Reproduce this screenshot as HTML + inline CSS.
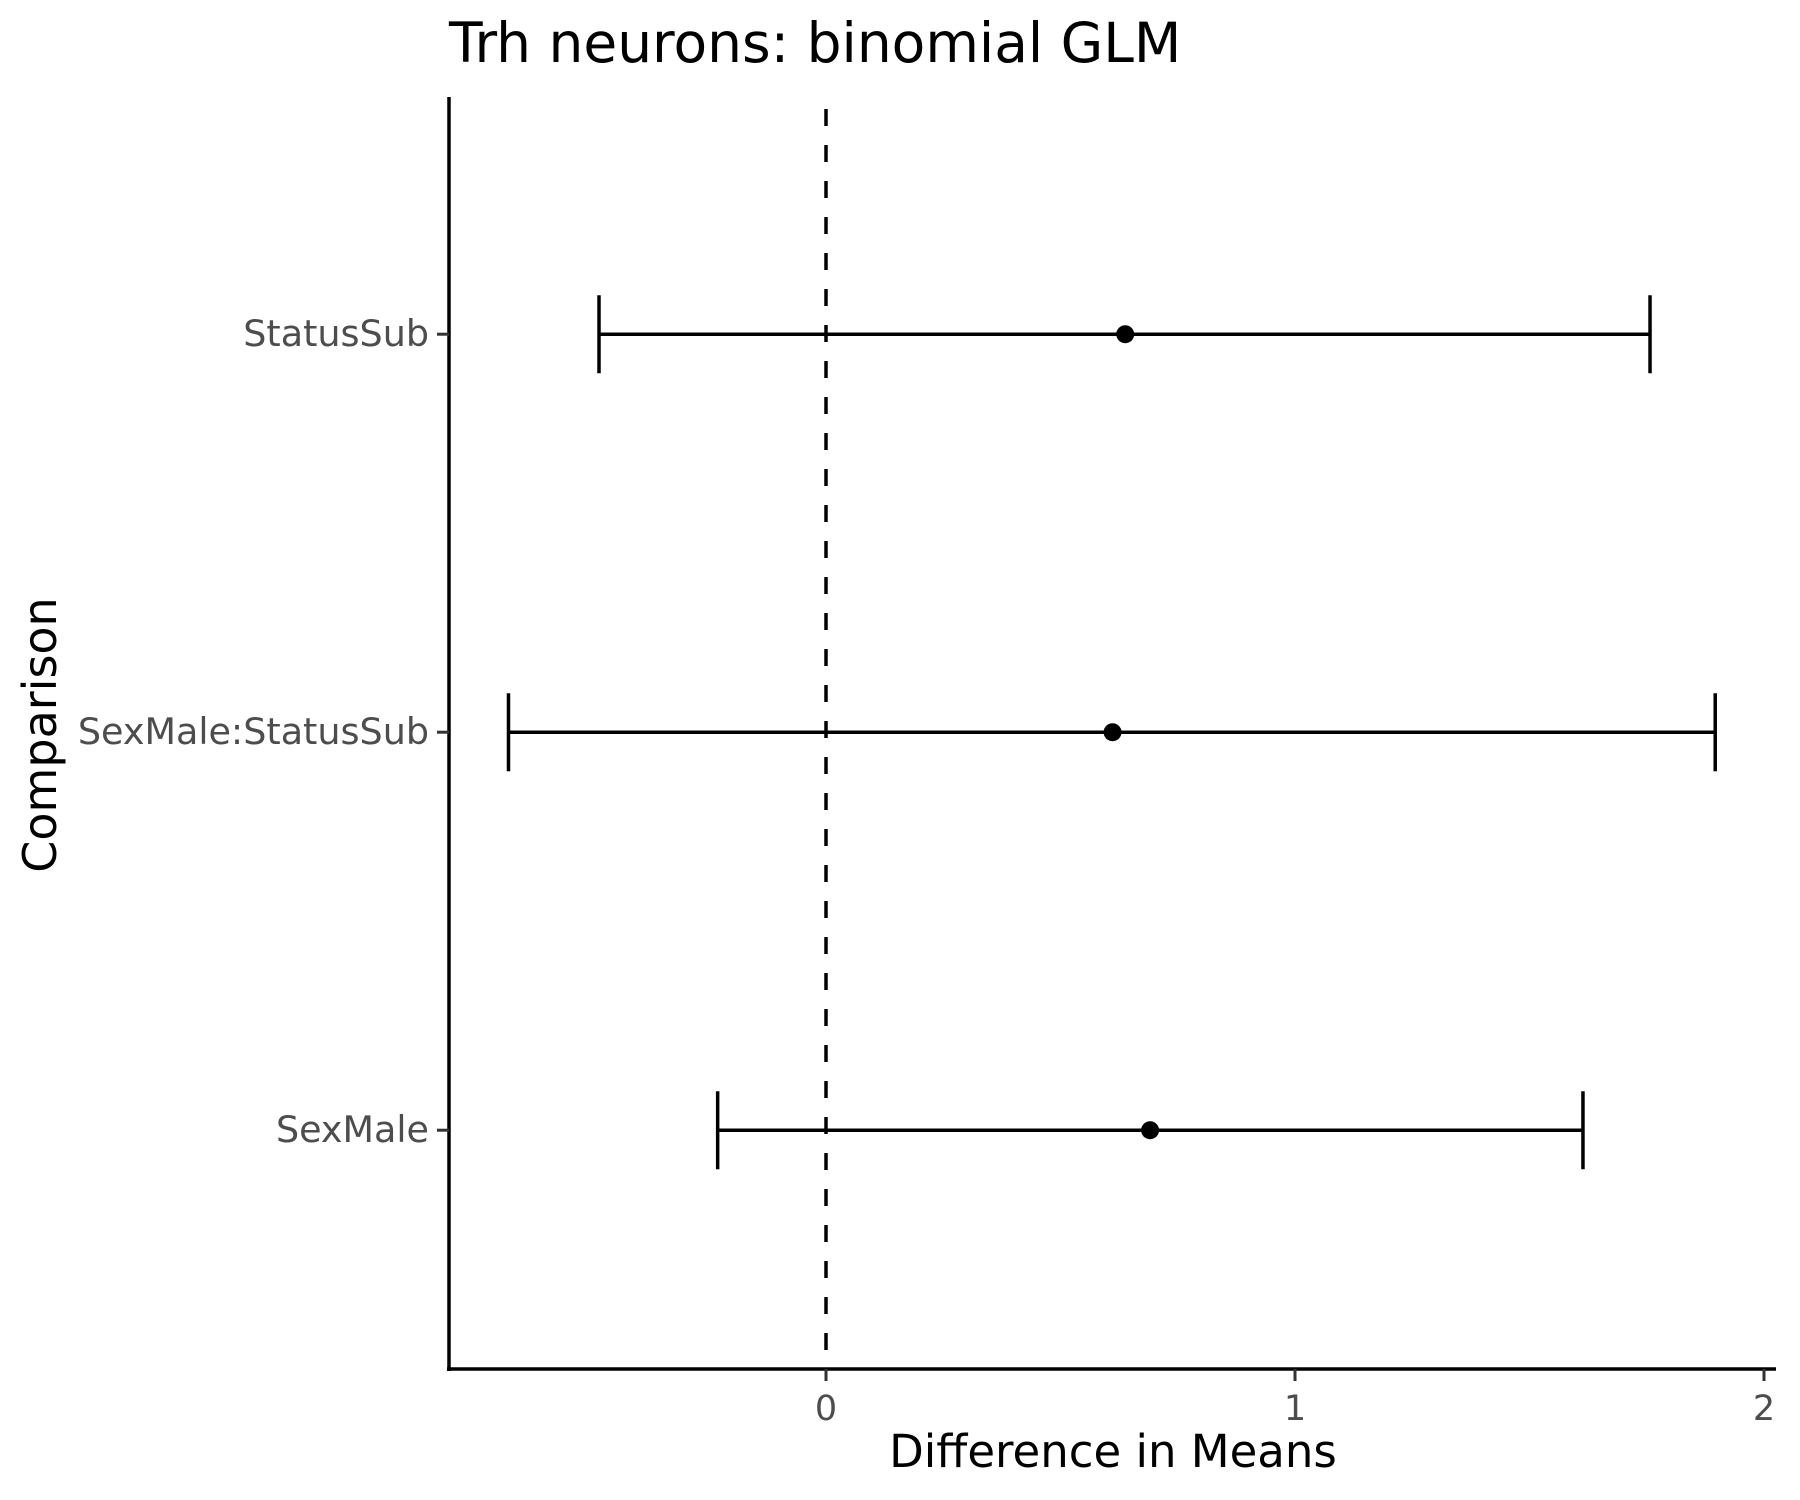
<!DOCTYPE html>
<html><head><meta charset="utf-8"><style>
html,body{margin:0;padding:0;background:#fff;}
svg{display:block;font-family:"DejaVu Sans","Liberation Sans",sans-serif;}
</style></head><body>
<svg id="chart" width="1800" height="1500" viewBox="0 0 1800 1500">
<text x="449" y="62" font-size="55" fill="#000">Trh neurons: binomial GLM</text>
<g id="plot"></g>
<text x="1113" y="1467" font-size="45" text-anchor="middle" fill="#000">Difference in Means</text>
<text transform="translate(56,735) rotate(-90)" font-size="46" text-anchor="middle" fill="#000">Comparison</text>
</svg>
<script>
const categories = ["SexMale","SexMale:StatusSub","StatusSub"];
const estimates = [0.691, 0.611, 0.638];
const lowers = [-0.231, -0.677, -0.484];
const uppers = [1.614, 1.896, 1.757];
const xTicks = [0, 1, 2];

const NS = "http://www.w3.org/2000/svg";
const g = document.getElementById("plot");
const x0 = 826, xUnit = 469;
const xs = v => x0 + v * xUnit;
const yBottom = 1369, yStep = 398;
const ys = i => yBottom - (i + 0.6) * yStep;
function mk(tag, attrs){const e=document.createElementNS(NS,tag);for(const k in attrs)e.setAttribute(k,attrs[k]);g.appendChild(e);return e;}

let z = mk("line",{x1:xs(0),x2:xs(0),y1:109,y2:yBottom,stroke:"#000","stroke-width":3.5,"stroke-dasharray":"17 19"});



let ya = mk("line",{x1:449,x2:449,y1:97,y2:yBottom+2,stroke:"#000","stroke-width":3.5});


let xa = mk("line",{x1:447,x2:1776,y1:yBottom,y2:yBottom,stroke:"#000","stroke-width":3.5});



xTicks.forEach(t=>{
  const tk = mk("line",{x1:xs(t),x2:xs(t),y1:yBottom,y2:yBottom+12,stroke:"#333","stroke-width":3});
  
  
  const tl = mk("text",{x:xs(t),y:1420,"font-size":35,"text-anchor":"middle",fill:"#4d4d4d"});
  tl.textContent = String(t);
  
  
});

categories.forEach((c,i)=>{
  const y = ys(i);
  const tk = mk("line",{x1:437,x2:449,y1:y,y2:y,stroke:"#333","stroke-width":3});
  
  
  const tl = mk("text",{x:429,y:y+12,"font-size":36.5,"text-anchor":"end",fill:"#4d4d4d"});
  tl.textContent = c;
  
  
  const bar = mk("line",{x1:xs(lowers[i]),x2:xs(uppers[i]),y1:y,y2:y,stroke:"#000","stroke-width":3.5});
  
  
  const cl = mk("line",{x1:xs(lowers[i]),x2:xs(lowers[i]),y1:y-39,y2:y+39,stroke:"#000","stroke-width":3.5});
  
  
  const cu = mk("line",{x1:xs(uppers[i]),x2:xs(uppers[i]),y1:y-39,y2:y+39,stroke:"#000","stroke-width":3.5});
  
  
  const pt = mk("circle",{cx:xs(estimates[i]),cy:y,r:9,fill:"#000"});
  
  
});
</script>
</body></html>
